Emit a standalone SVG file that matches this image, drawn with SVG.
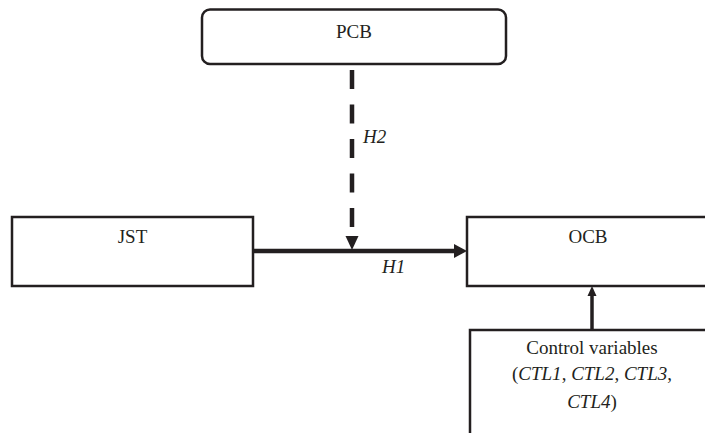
<svg xmlns="http://www.w3.org/2000/svg" width="705" height="433" viewBox="0 0 705 433" font-family="'Liberation Serif', 'Times New Roman', 'DejaVu Serif', serif">
<style>
.box{fill:#fff;stroke:#231f20;stroke-width:2.5}
.t{font-family:'Liberation Serif','Times New Roman','DejaVu Serif',serif;font-size:19px;fill:#231f20;text-anchor:middle}
.s{font-family:'Liberation Serif','Times New Roman','DejaVu Serif',serif;font-size:19px;fill:#231f20;text-anchor:start;font-style:italic}
.i{font-style:italic}
.ln{stroke:#231f20;fill:none}
.ah{fill:#231f20}
</style>
<rect width="705" height="433" fill="#fff"/>
<g id="connectors">
<line class="ln" x1="253" y1="251" x2="456" y2="251" stroke-width="4.5"/>
<polygon class="ah" points="454,244 467,251 454,258"/>
<line class="ln" x1="352" y1="70" x2="352" y2="227" stroke-width="4.5" stroke-dasharray="19 15.5"/>
<polygon class="ah" points="345.5,236 358.5,236 352,250"/>
<line class="ln" x1="592" y1="330" x2="592" y2="294" stroke-width="3.5"/>
<polygon class="ah" points="587.5,296 596.5,296 592,286"/>
<text class="s" x="363" y="143">H2</text>
<text class="s" x="382" y="273">H1</text>
</g>
<g id="pcb">
<rect class="box" x="202" y="9.5" width="304" height="54.5" rx="8"/>
<text class="t" x="354" y="38">PCB</text>
</g>
<g id="jst">
<rect class="box" x="12" y="217" width="241" height="69"/>
<text class="t" x="132.5" y="243">JST</text>
</g>
<g id="ocb">
<rect class="box" x="467" y="217" width="245" height="69"/>
<text class="t" x="588" y="243">OCB</text>
</g>
<g id="control">
<rect class="box" x="470" y="330" width="242" height="110"/>
<text class="t" x="592" y="354">Control variables</text>
<text class="t" x="592" y="380">(<tspan class="i">CTL1</tspan>, <tspan class="i">CTL2</tspan>, <tspan class="i">CTL3</tspan>,</text>
<text class="t" x="592" y="408"><tspan class="i">CTL4</tspan>)</text>
</g>
</svg>
